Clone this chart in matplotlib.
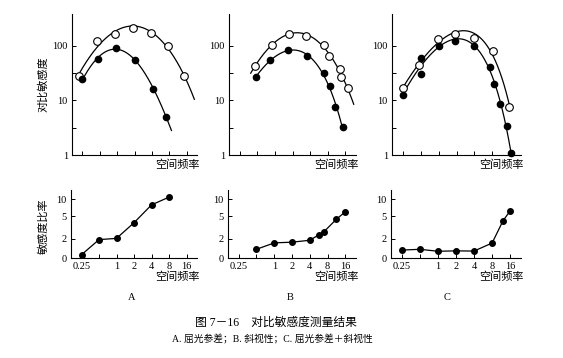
import numpy as np
import matplotlib
matplotlib.use("Agg")
import matplotlib.pyplot as plt
from matplotlib.ticker import FixedLocator, NullLocator, NullFormatter

plt.rcParams['font.family'] = ['Liberation Serif', 'Noto Sans CJK SC', 'DejaVu Sans']
CJK = ['Noto Sans CJK SC', 'DejaVu Sans']

# contrast sensitivity, open circles / filled dots, per panel
A_open_f = [0.22, 0.45, 0.92, 1.87, 3.84, 7.7, 14.4]
A_open_s = [28, 122, 168, 217, 173, 101, 28]
A_fill_f = [0.25, 0.46, 0.95, 2.07, 4.2, 7.1]
A_fill_s = [24.5, 57, 91, 55, 16.5, 5.0]
A_ratio_f = [0.25, 0.5, 1, 2, 4, 8]
A_ratio = [1.06, 1.95, 2.05, 3.85, 7.9, 10.8]

B_open_f = [0.46, 0.88, 1.72, 3.46, 6.8, 8.4, 13, 13.7, 17.4]
B_open_s = [42.5, 106, 168, 152, 106, 65.6, 37.8, 26.7, 16.7]
B_fill_f = [0.47, 0.83, 1.67, 3.5, 6.8, 8.7, 10.6, 14.4]
B_fill_s = [26.7, 54.7, 83, 65, 32, 18.7, 7.5, 3.2]
B_ratio_f = [0.5, 1, 2, 4, 5.7, 7.0, 11.2, 16]
B_ratio = [1.32, 1.71, 1.76, 1.9, 2.37, 2.7, 4.4, 6.0]

C_open_f = [0.25, 0.46, 0.97, 1.92, 3.95, 8.2, 15.5]
C_open_s = [16.7, 44.8, 136, 168, 138, 82, 7.7]
C_fill_f = [0.25, 0.5, 0.5, 1.02, 1.92, 3.9, 7.3, 8.6, 10.8, 14.1, 16.3]
C_fill_s = [12.6, 61, 30.6, 101, 124, 101, 41.7, 20.3, 8.5, 3.4, 1.07]
C_ratio_f = [0.25, 0.5, 1, 2, 4, 8, 12.2, 16]
C_ratio = [1.28, 1.32, 1.22, 1.24, 1.23, 1.70, 4.2, 6.2]

freq_ticks = [0.25, 0.5, 1, 2, 4, 8, 16]
freq_labels = ["0.25", "", "1", "2", "4", "8", "16"]
panel_names = ["A", "B", "C"]

W, H = 563, 358
RATIO_YMIN = 0.93


def fit_curve(f, s, ext_lo, ext_hi):
    # smooth CSF-like fit: log s = a + b*x + c*x^2 + d*f, x = log2 f
    x = np.log2(f)
    M = np.column_stack([np.ones_like(x), x, x ** 2, np.asarray(f)])
    coef, *_ = np.linalg.lstsq(M, np.log10(s), rcond=None)
    xx = np.linspace(x.min() - ext_lo, x.max() + ext_hi, 200)
    MM = np.column_stack([np.ones_like(xx), xx, xx ** 2, 2 ** xx])
    return 2 ** xx, 10 ** (MM @ coef)


def px_axes(left, right, top, bottom):
    return fig.add_axes([left / W, 1 - bottom / H, (right - left) / W, (bottom - top) / H])


def style(ax):
    ax.spines['top'].set_visible(False)
    ax.spines['right'].set_visible(False)
    for sp in ax.spines.values():
        sp.set_linewidth(0.8)
    ax.set_xscale('log', base=2)
    ax.set_xlim(2 ** -2.6, 2 ** 4.6)
    ax.xaxis.set_major_locator(FixedLocator(freq_ticks))
    ax.xaxis.set_minor_locator(NullLocator())
    ax.tick_params(direction='in', length=3, width=0.7, labelsize=7.5, pad=3)


fig = plt.figure(figsize=(W / 100, H / 100), dpi=100)

top_lr = [(72, 197), (229, 356), (392, 521)]
open_sets = [(A_open_f, A_open_s), (B_open_f, B_open_s), (C_open_f, C_open_s)]
fill_sets = [(A_fill_f, A_fill_s), (B_fill_f, B_fill_s), (C_fill_f, C_fill_s)]
ratio_sets = [(A_ratio_f, A_ratio), (B_ratio_f, B_ratio), (C_ratio_f, C_ratio)]
open_ext = [(0.0, 0.6), (0.25, 0.35), (0.0, 0.0)]
fill_ext = [(0.0, 0.3), (0.0, 0.0), (0.0, 0.0)]

for i in range(3):
    l, r = top_lr[i]
    ax = px_axes(l, r, 14, 155)
    style(ax)
    ax.set_yscale('log')
    ax.set_ylim(1, 386)
    ax.yaxis.set_major_locator(FixedLocator([1, 10, 100]))
    ax.yaxis.set_minor_locator(FixedLocator([10 ** 0.5, 10 ** 1.5]))
    ax.yaxis.set_minor_formatter(NullFormatter())
    ax.set_yticklabels(["1", "10", "100"])
    ax.tick_params(axis='y', which='minor', direction='in', length=3, width=0.7)
    ax.set_xticklabels([])

    fo, so = open_sets[i]
    ff, sf = fill_sets[i]
    cx, cy = fit_curve(fo, so, *open_ext[i])
    ax.plot(cx, cy, color='black', lw=0.9, clip_on=False)
    cx, cy = fit_curve(ff, sf, *fill_ext[i])
    ax.plot(cx, cy, color='black', lw=0.9, clip_on=False)
    ax.plot(fo, so, 'o', mfc='white', mec='black', mew=0.8, ms=5.5, ls='none', clip_on=False)
    ax.plot(ff, sf, 'o', color='black', ms=4.5, ls='none', clip_on=False)
    fig.text((r - 20) / W, 1 - 165 / H, "空间频率", family=CJK, fontsize=8, ha='center', va='center')

    axb = px_axes(l - 1, r, 190, 258)
    style(axb)
    axb.set_yscale('log')
    axb.set_ylim(RATIO_YMIN, 14.4)
    axb.yaxis.set_major_locator(FixedLocator([RATIO_YMIN, 2, 5, 10]))
    axb.yaxis.set_minor_locator(NullLocator())
    axb.set_yticklabels(["0", "2", "5", "10"])
    axb.set_xticklabels(freq_labels)
    rf, rv = ratio_sets[i]
    axb.plot(rf, rv, '-o', color='black', lw=0.9, ms=4, clip_on=False)
    fig.text((r - 20) / W, 1 - 277 / H, "空间频率", family=CJK, fontsize=8, ha='center', va='center')

fig.text(43 / W, 1 - 84 / H, "对比敏感度", family=CJK, fontsize=8, rotation=90, ha='center', va='center')
fig.text(43 / W, 1 - 226 / H, "敏感度比率", family=CJK, fontsize=8, rotation=90, ha='center', va='center')

for name, x in zip(panel_names, [132, 290, 447]):
    fig.text(x / W, 1 - 297 / H, name, fontsize=7.5, ha='center', va='center')

fig.text(276 / W, 1 - 323 / H, "图 7－16    对比敏感度测量结果", fontsize=8.5, ha='center', va='center')
fig.text(272 / W, 1 - 339 / H, "A. 屈光参差；B. 斜视性；C. 屈光参差＋斜视性", fontsize=7, ha='center', va='center')

fig.savefig("out.png", dpi=100)
